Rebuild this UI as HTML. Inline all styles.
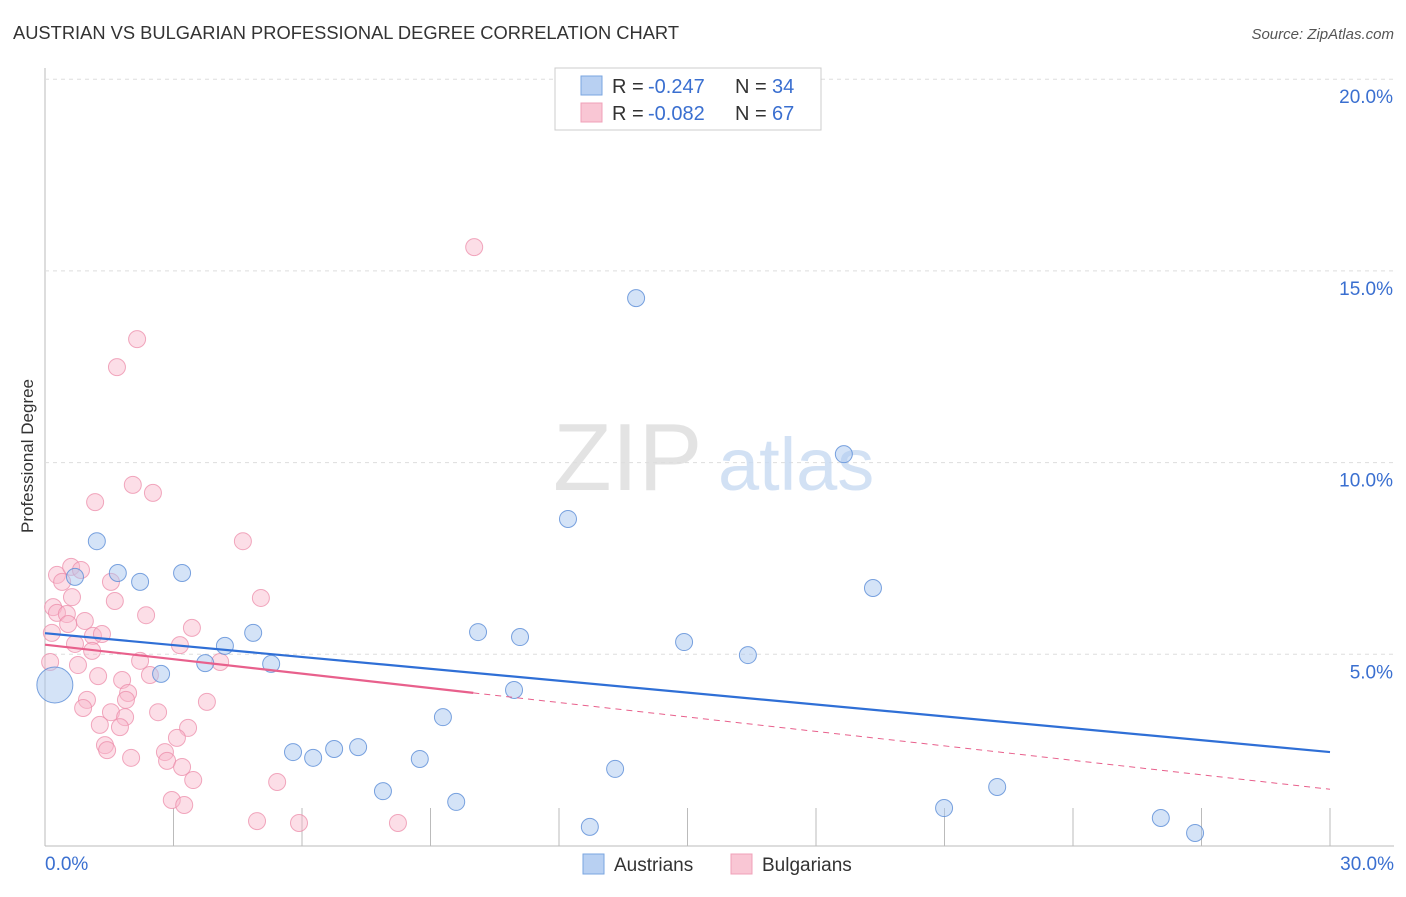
<!DOCTYPE html>
<html><head><meta charset="utf-8"><style>
body{margin:0;background:#fff;font-family:"Liberation Sans",sans-serif;}
svg text{font-family:"Liberation Sans",sans-serif;}
</style></head><body>
<svg id="chart" width="1406" height="892" viewBox="0 0 1406 892" xmlns="http://www.w3.org/2000/svg">
<text x="13" y="39" font-size="18" fill="#333" textLength="666" lengthAdjust="spacingAndGlyphs">AUSTRIAN VS BULGARIAN PROFESSIONAL DEGREE CORRELATION CHART</text>
<text x="1394" y="39" font-size="15" fill="#555" text-anchor="end" font-style="italic">Source: ZipAtlas.com</text>
<text transform="translate(33,456) rotate(-90)" font-size="17" fill="#333" text-anchor="middle">Professional Degree</text>
<g id="grid"></g>
<text x="553" y="490" font-size="96" fill="#ddd" font-family="Liberation Serif" opacity="0.8">ZIP</text>
<text x="718" y="490" font-size="74" fill="#c8daf2" opacity="0.8">atlas</text>
<g id="marks"></g>
<g>
<rect x="555" y="68" width="266" height="62" fill="#fff" stroke="#ccc"/>
<rect x="581" y="76" width="21" height="19" fill="#b8d0f2" stroke="#7aa6e0"/>
<rect x="581" y="103" width="21" height="19" fill="#f9c6d4" stroke="#f0a0b8"/>
<text x="612" y="93" font-size="20" fill="#333">R =</text>
<text x="648" y="93" font-size="20" fill="#3a6fd0">-0.247</text>
<text x="735" y="93" font-size="20" fill="#333">N =</text>
<text x="772" y="93" font-size="20" fill="#3a6fd0">34</text>
<text x="612" y="120" font-size="20" fill="#333">R =</text>
<text x="648" y="120" font-size="20" fill="#3a6fd0">-0.082</text>
<text x="735" y="120" font-size="20" fill="#333">N =</text>
<text x="772" y="120" font-size="20" fill="#3a6fd0">67</text>
</g>
<g>
<rect x="583" y="854" width="21" height="20" fill="#b8d0f2" stroke="#7aa6e0"/>
<text x="614" y="871" font-size="19" fill="#333">Austrians</text>
<rect x="731" y="854" width="21" height="20" fill="#f9c6d4" stroke="#f0a0b8"/>
<text x="762" y="871" font-size="19" fill="#333">Bulgarians</text>
</g>
</svg>
<script>
const yTicks=[5,10,15,20];
const yTickLabels=["5.0%","10.0%","15.0%","20.0%"];
const xTicks=[0,3,6,9,12,15,18,21,24,27,30];
const austX=[0.23,1.21,1.70,2.22,3.20,0.70,2.71,3.74,4.20,4.86,5.28,5.79,6.26,6.75,7.31,7.89,8.75,9.29,9.60,10.11,10.95,11.09,12.21,12.72,13.31,13.80,14.92,16.41,18.65,19.33,20.99,22.23,26.05,26.85];
const austY=[4.20,7.95,7.12,6.89,7.12,7.02,4.49,4.77,5.22,5.56,4.75,2.45,2.30,2.53,2.58,1.43,2.27,3.36,1.15,5.58,4.07,5.45,8.53,0.50,2.01,14.29,5.32,4.98,10.22,6.73,0.99,1.54,0.73,0.34];
const bulgX=[10.02,2.15,1.68,1.17,2.05,2.52,4.62,5.04,0.28,0.61,0.84,0.40,1.54,0.63,1.63,0.19,0.28,0.51,0.54,0.93,2.36,0.16,1.12,1.33,3.43,0.70,1.10,3.15,4.09,2.22,0.77,0.12,2.45,1.24,1.80,1.94,1.89,0.98,0.89,1.54,1.87,1.28,1.75,2.64,3.78,3.34,3.08,1.40,1.45,2.01,2.80,2.85,3.20,3.46,5.42,2.96,3.25,4.95,5.93,8.24];
const bulgY=[15.62,13.22,12.49,8.97,9.42,9.21,7.95,6.47,7.07,7.28,7.20,6.89,6.89,6.49,6.39,6.23,6.08,6.05,5.79,5.87,6.02,5.56,5.48,5.53,5.69,5.27,5.09,5.24,4.80,4.83,4.72,4.80,4.46,4.43,4.33,3.99,3.81,3.81,3.60,3.49,3.36,3.16,3.10,3.49,3.76,3.08,2.82,2.63,2.50,2.30,2.45,2.22,2.06,1.72,1.67,1.20,1.07,0.65,0.60,0.60];
const austTrend=[5.55,2.45];
const bulgTrend=[5.25,1.48];
const bulgSolidEnd=10.0;
const NS="http://www.w3.org/2000/svg";
const X=v=>45+v/30*1285;
const Y=v=>846-v/5*191.7;
function mk(t,a,p){const e=document.createElementNS(NS,t);for(const k in a)e.setAttribute(k,a[k]);p.appendChild(e);return e;}
const grid=document.getElementById('grid'),marks=document.getElementById('marks');
mk('line',{x1:45,y1:68,x2:45,y2:846,stroke:'#bbb'},grid);
mk('line',{x1:45,y1:846,x2:1394,y2:846,stroke:'#bbb'},grid);
yTicks.forEach((t,i)=>{
 const g=mk('line',{x1:45,y1:Y(t),x2:1394,y2:Y(t),stroke:'#ddd','stroke-dasharray':'4,4'},grid);
 
 
 const l=mk('text',{x:1393,y:Y(t)+24,'font-size':19,fill:'#3a6fd0','text-anchor':'end'},grid);
 l.textContent=yTickLabels[i];
 
 
});
xTicks.forEach(t=>{
 const k=mk('line',{x1:X(t),y1:808,x2:X(t),y2:846,stroke:'#bbb'},grid);
 
 
});
const xl0=mk('text',{x:45,y:870,'font-size':19,fill:'#3a6fd0'},grid);xl0.textContent='0.0%';


const xl1=mk('text',{x:1394,y:870,'font-size':19,fill:'#3a6fd0','text-anchor':'end'},grid);xl1.textContent='30.0%';


bulgX.forEach((x,i)=>{
 const c=mk('circle',{cx:X(x),cy:Y(bulgY[i]),r:8.5,fill:'rgba(248,182,202,0.45)',stroke:'rgba(236,140,170,0.75)','stroke-width':1},marks);
 
 
});
austX.forEach((x,i)=>{
 const c=mk('circle',{cx:X(x),cy:Y(austY[i]),r:i==0?18:8.5,fill:'rgba(170,200,240,0.5)',stroke:'rgba(90,140,215,0.8)','stroke-width':1},marks);
 
 
});
const by=v=>bulgTrend[0]+(bulgTrend[1]-bulgTrend[0])*v/30;
const l1=mk('line',{x1:X(0),y1:Y(austTrend[0]),x2:X(30),y2:Y(austTrend[1]),stroke:'#2f6fd6','stroke-width':2.2},marks);


const l2=mk('line',{x1:X(0),y1:Y(by(0)),x2:X(bulgSolidEnd),y2:Y(by(bulgSolidEnd)),stroke:'#e8608c','stroke-width':2.2},marks);


const l3=mk('line',{x1:X(bulgSolidEnd),y1:Y(by(bulgSolidEnd)),x2:X(30),y2:Y(by(30)),stroke:'#e8608c','stroke-width':1,'stroke-dasharray':'6,5'},marks);


</script>
</body></html>
